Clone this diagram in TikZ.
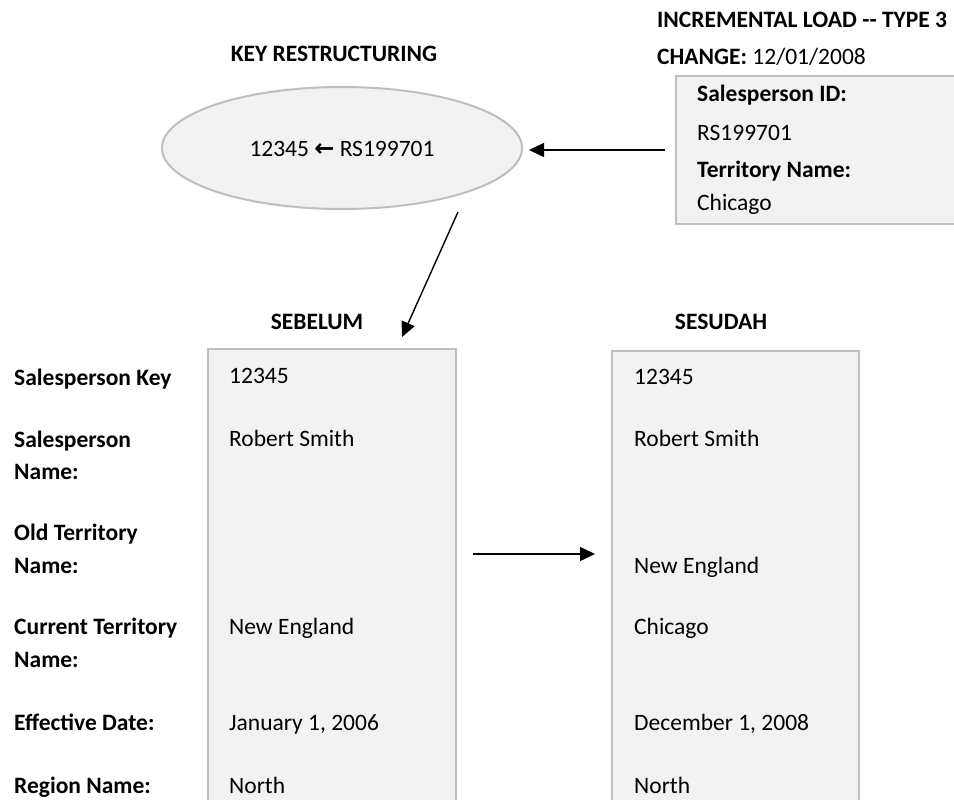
\documentclass[tikz,border=0pt]{standalone}
\usepackage{fontspec}
\setmainfont{Carlito}
\newfontfamily\symfont{DejaVu Sans}
\usetikzlibrary{arrows.meta,shapes.geometric}
\definecolor{panelfill}{HTML}{F2F2F2}
\definecolor{paneldraw}{HTML}{BFBFBF}
\tikzset{
  panel/.style={draw=paneldraw, fill=panelfill, line width=2pt, inner sep=0pt},
  txt/.style={anchor=base west, inner sep=0pt, font=\fontsize{23.5}{28}\selectfont},
  btxt/.style={txt, font=\fontsize{23.5}{28}\selectfont\bfseries},
  head/.style={anchor=base, inner sep=0pt, font=\fontsize{23.5}{28}\selectfont\bfseries},
  arr/.style={-{Triangle[length=15pt,width=14pt]}, line width=1.4pt, black},
}
\begin{document}
\begin{tikzpicture}[x=1pt,y=-1pt]
\clip (0,0) rectangle (954,800);
\fill[white] (0,0) rectangle (954,800);

% headings
\node[head] (keyh) at (334,62) {KEY RESTRUCTURING};
\node[btxt] (inch) at (657,28) {INCREMENTAL LOAD {-}{-} TYPE 3};
\node[txt] (chg) at (657,65) {\textbf{CHANGE:} 12/01/2008};

% ellipse
\node[panel, ellipse, minimum width=360pt, minimum height=122pt] (ell) at (342,148) {};
\node[anchor=base, inner sep=0pt, font=\fontsize{23.5}{28}\selectfont] (elltxt) at (342,156) {12345 {\symfont\bfseries\fontsize{24}{28}\selectfont ←} RS199701};

% incremental box
\node[panel, anchor=north west, minimum width=300pt, minimum height=148pt] (inc) at (675,75) {};
\node[btxt] (i1) at (697,102) {Salesperson ID:};
\node[txt] (i2) at (697,140) {RS199701};
\node[btxt] (i3) at (697,177) {Territory Name:};
\node[txt] (i4) at (697,210) {Chicago};

% arrow into ellipse
\draw[arr, shorten <=10pt, shorten >=6pt] (inc.west) -- (inc.west -| ell.east);

% diagonal arrow
\coordinate (dstart) at (458,212);
\coordinate (dend) at (402,337);
\draw[arr] (dstart) -- (dend);

% column heads
\node[head] (seb) at (317,329) {SEBELUM};
\node[head] (ses) at (721,329) {SESUDAH};

% panels
\node[panel, anchor=north west, minimum width=248pt, minimum height=480pt] (lbox) at (207,348) {};
\node[panel, anchor=north west, minimum width=247pt, minimum height=480pt] (rbox) at (611,350) {};

% middle arrow
\coordinate (ma) at (473,554);
\coordinate (mb) at (595,554);
\draw[arr] (ma) -- (mb);

% row labels
\node[btxt] (l1) at (14,385) {Salesperson Key};
\node[btxt] (l2) at (14,447) {Salesperson};
\node[btxt] (l2b) at (14,479) {Name:};
\node[btxt] (l3) at (14,540) {Old Territory};
\node[btxt] (l3b) at (14,573) {Name:};
\node[btxt] (l4) at (14,634) {Current Territory};
\node[btxt] (l4b) at (14,667) {Name:};
\node[btxt] (l5) at (14,730) {Effective Date:};
\node[btxt] (l6) at (14,793) {Region Name:};

% before values
\node[txt] (a1) at (229,383) {12345};
\node[txt] (a2) at (229,446) {Robert Smith};
\node[txt] (a4) at (229,634) {New England};
\node[txt] (a5) at (229,730) {January 1, 2006};
\node[txt] (a6) at (229,793) {North};

% after values
\node[txt] (b1) at (634,384) {12345};
\node[txt] (b2) at (634,446) {Robert Smith};
\node[txt] (b3) at (634,573) {New England};
\node[txt] (b4) at (634,634) {Chicago};
\node[txt] (b5) at (634,730) {December 1, 2008};
\node[txt] (b6) at (634,793) {North};
\end{tikzpicture}
\end{document}
